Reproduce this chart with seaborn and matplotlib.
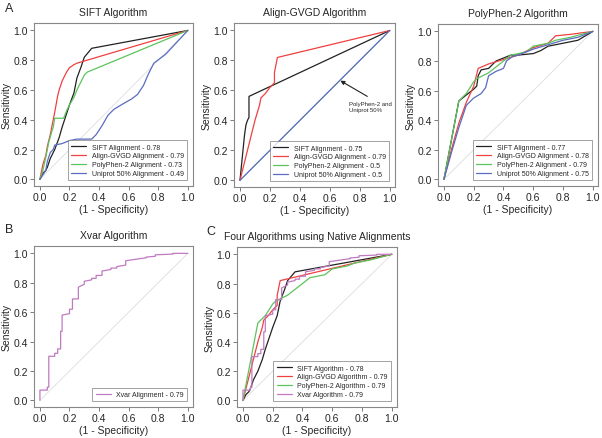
import pandas as pd
import matplotlib
matplotlib.use("Agg")
import matplotlib.pyplot as plt
import seaborn as sns

sns.set_style("ticks")
plt.rcParams['font.family'] = ['Liberation Sans', 'DejaVu Sans']

# couleurs des courbes
c_black = "#222222"
c_red = "#f04040"
c_green = "#5cc45c"
c_blue = "#5a6cc0"
c_pink = "#c07ac0"

# --- panneau A1 : SIFT Algorithm ---
sift_sift_x = [0, 0.02, 0.04, 0.05, 0.07, 0.1, 0.13, 0.15, 0.18, 0.2, 0.23, 0.25, 0.28, 0.3, 0.35, 1.0]
sift_sift_y = [0, 0.04, 0.06, 0.08, 0.14, 0.2, 0.28, 0.35, 0.44, 0.5, 0.58, 0.68, 0.76, 0.82, 0.88, 1.0]
sift_gvgd_x = [0, 0.02, 0.04, 0.05, 0.07, 0.08, 0.1, 0.12, 0.13, 0.15, 0.18, 0.2, 0.23, 0.25, 1.0]
sift_gvgd_y = [0, 0.1, 0.16, 0.22, 0.3, 0.35, 0.45, 0.56, 0.6, 0.66, 0.72, 0.75, 0.77, 0.78, 1.0]
sift_pph_x = [0, 0.02, 0.04, 0.06, 0.08, 0.09, 0.1, 0.16, 0.18, 0.2, 0.23, 0.25, 0.28, 0.3, 0.32, 1.0]
sift_pph_y = [0, 0.06, 0.15, 0.25, 0.32, 0.35, 0.41, 0.41, 0.46, 0.5, 0.55, 0.6, 0.66, 0.7, 0.72, 1.0]
sift_uni_x = [0, 0.02, 0.04, 0.05, 0.07, 0.09, 0.1, 0.15, 0.2, 0.25, 0.35, 0.38, 0.42, 0.46, 0.5, 0.55, 0.62, 0.66, 0.7, 0.73, 0.77, 0.85, 1.0]
sift_uni_y = [0, 0.03, 0.06, 0.12, 0.18, 0.2, 0.23, 0.24, 0.26, 0.27, 0.27, 0.3, 0.36, 0.43, 0.47, 0.5, 0.54, 0.57, 0.63, 0.7, 0.78, 0.84, 1.0]
sift_labels = ["SIFT Alignment - 0.78", "Align-GVGD Alignment - 0.79",
               "PolyPhen-2 Alignment - 0.73", "Uniprot 50% Alignment - 0.49"]

# --- panneau A2 : Align-GVGD Algorithm ---
gvgd_sift_x = [0, 0.03, 0.04, 0.05, 0.06, 0.06, 1.0]
gvgd_sift_y = [0, 0.3, 0.37, 0.4, 0.42, 0.56, 1.0]
gvgd_gvgd_x = [0, 0.05, 0.1, 0.13, 0.14, 0.17, 0.2, 0.23, 0.23, 0.24, 0.25, 1.0]
gvgd_gvgd_y = [0, 0.2, 0.4, 0.5, 0.55, 0.58, 0.62, 0.65, 0.72, 0.77, 0.82, 1.0]
gvgd_pph_x = [0, 1.0]
gvgd_pph_y = [0, 1.0]
gvgd_uni_x = [0, 1.0]
gvgd_uni_y = [0, 1.0]
gvgd_labels = ["SIFT Alignment - 0.75", "Align-GVGD Alignment - 0.79",
               "PolyPhen-2 Alignment - 0.5", "Uniprot 50% Alignment - 0.5"]

# --- panneau A3 : PolyPhen-2 Algorithm ---
pph_sift_x = [0, 0.1, 0.15, 0.2, 0.22, 0.23, 0.25, 0.3, 0.35, 0.4, 0.45, 0.5, 0.6, 0.65, 0.7, 0.8, 0.9, 1.0]
pph_sift_y = [0, 0.53, 0.57, 0.61, 0.63, 0.7, 0.74, 0.75, 0.8, 0.82, 0.84, 0.84, 0.85, 0.87, 0.9, 0.92, 0.94, 1.0]
pph_gvgd_x = [0, 0.05, 0.1, 0.15, 0.2, 0.23, 0.3, 0.4, 0.5, 0.6, 0.7, 0.75, 0.85, 1.0]
pph_gvgd_y = [0, 0.2, 0.38, 0.52, 0.63, 0.75, 0.78, 0.81, 0.84, 0.89, 0.92, 0.97, 0.98, 1.0]
pph_pph_x = [0, 0.1, 0.15, 0.2, 0.22, 0.3, 0.35, 0.4, 0.45, 0.55, 0.6, 0.7, 0.75, 0.85, 1.0]
pph_pph_y = [0, 0.53, 0.58, 0.66, 0.68, 0.72, 0.76, 0.8, 0.84, 0.86, 0.9, 0.92, 0.94, 0.96, 1.0]
pph_uni_x = [0, 0.05, 0.1, 0.15, 0.2, 0.25, 0.28, 0.3, 0.35, 0.4, 0.42, 0.46, 0.5, 0.6, 0.7, 0.8, 0.9, 1.0]
pph_uni_y = [0, 0.18, 0.35, 0.5, 0.55, 0.58, 0.62, 0.7, 0.73, 0.75, 0.8, 0.83, 0.84, 0.88, 0.91, 0.94, 0.96, 1.0]
pph_labels = ["SIFT Alignment - 0.77", "Align-GVGD Alignment - 0.78",
              "PolyPhen-2 Alignment - 0.79", "Uniprot 50% Alignment - 0.75"]

# --- panneau B : Xvar Algorithm (courbe en escalier) ---
xvar_x = [0, 0, 0.05, 0.05, 0.06, 0.06, 0.1, 0.1, 0.12, 0.12, 0.14, 0.14, 0.15, 0.15, 0.2, 0.2,
          0.22, 0.22, 0.26, 0.26, 0.3, 0.3, 0.35, 0.35, 0.38, 0.38, 0.42, 0.42, 0.48, 0.48,
          0.52, 0.52, 0.58, 0.58, 0.65, 0.65, 0.72, 0.72, 0.78, 0.78, 0.9, 0.9, 1.0]
xvar_y = [0, 0.07, 0.07, 0.09, 0.09, 0.3, 0.3, 0.32, 0.32, 0.35, 0.35, 0.47, 0.47, 0.58, 0.59, 0.62,
          0.62, 0.69, 0.69, 0.77, 0.79, 0.81, 0.82, 0.83, 0.83, 0.85, 0.85, 0.88, 0.89, 0.9,
          0.9, 0.91, 0.92, 0.95, 0.96, 0.96, 0.97, 0.975, 0.98, 0.99, 0.995, 1.0, 1.0]
xvar_labels = ["Xvar Alignment - 0.79"]

# --- panneau C : les quatre algorithmes ---
natif_labels = ["SIFT Algorithm - 0.78", "Align-GVGD Algorithm - 0.79",
                "PolyPhen-2 Algorithm - 0.79", "Xvar Algorithm - 0.79"]


def tracer(ax, courbes, labels, couleurs, titre):
    # tableau long pour seaborn
    morceaux = []
    for (xs, ys), lab in zip(courbes, labels):
        morceaux.append(pd.DataFrame({"fpr": xs, "tpr": ys, "courbe": lab}))
    df = pd.concat(morceaux, ignore_index=True)
    ax.plot([0, 1], [0, 1], color="#dddddd", lw=0.6, zorder=0)
    sns.lineplot(data=df, x="fpr", y="tpr", hue="courbe", palette=dict(zip(labels, couleurs)),
                 sort=False, estimator=None, lw=0.9, ax=ax)
    ax.set_xlim(-0.04, 1.035)
    ax.set_ylim(-0.045, 1.05)
    ax.set_xticks([0, 0.2, 0.4, 0.6, 0.8, 1.0])
    ax.set_yticks([0, 0.2, 0.4, 0.6, 0.8, 1.0])
    ax.tick_params(labelsize=7.5, length=3, width=0.6, color="#666666", pad=1.5)
    for s in ax.spines.values():
        s.set_color("#888888")
        s.set_linewidth(0.8)
    ax.set_xlabel("(1 - Specificity)", fontsize=7.5, labelpad=1)
    ax.set_ylabel("Sensitivity", fontsize=7.5, labelpad=1)
    ax.set_title(titre, fontsize=7.5, pad=6)
    leg = ax.legend(loc="lower right", fontsize=5, frameon=True, fancybox=False,
                    edgecolor="#777777", handlelength=2.2, borderpad=0.5,
                    labelspacing=0.25, borderaxespad=0.8)
    leg.get_frame().set_linewidth(0.6)


fig = plt.figure(figsize=(6.02, 4.39), dpi=100)
W, H = 602, 439


def boite(l, r, t, b):
    return [l / W, (H - b) / H, (r - l) / W, (b - t) / H]


ax1 = fig.add_axes(boite(34, 193, 24, 187))
ax2 = fig.add_axes(boite(234, 395, 24, 188))
ax3 = fig.add_axes(boite(438, 598, 25, 187))
ax4 = fig.add_axes(boite(34, 193, 247, 408))
ax5 = fig.add_axes(boite(237, 397, 248, 408))

couleurs4 = [c_black, c_red, c_green, c_blue]

tracer(ax1, [(sift_sift_x, sift_sift_y), (sift_gvgd_x, sift_gvgd_y),
             (sift_pph_x, sift_pph_y), (sift_uni_x, sift_uni_y)],
       sift_labels, couleurs4, "SIFT Algorithm")
tracer(ax2, [(gvgd_sift_x, gvgd_sift_y), (gvgd_gvgd_x, gvgd_gvgd_y),
             (gvgd_pph_x, gvgd_pph_y), (gvgd_uni_x, gvgd_uni_y)],
       gvgd_labels, couleurs4, "Align-GVGD Algorithm")
# la courbe verte est cachée sous la bleue sur la diagonale
ax2.lines[3].set_linewidth(0.4)
tracer(ax3, [(pph_sift_x, pph_sift_y), (pph_gvgd_x, pph_gvgd_y),
             (pph_pph_x, pph_pph_y), (pph_uni_x, pph_uni_y)],
       pph_labels, couleurs4, "PolyPhen-2 Algorithm")
tracer(ax4, [(xvar_x, xvar_y)], xvar_labels, [c_pink], "Xvar Algorithm")
tracer(ax5, [(sift_sift_x, sift_sift_y), (gvgd_gvgd_x, gvgd_gvgd_y),
             (pph_pph_x, pph_pph_y), (xvar_x, xvar_y)],
       natif_labels, [c_black, c_red, c_green, c_pink], "Four Algorithms using Native Alignments")

# annotation du panneau Align-GVGD
ax2.annotate("", xy=(0.67, 0.665), xytext=(0.85, 0.56),
             arrowprops=dict(arrowstyle="-|>", color="#222222", lw=0.8, mutation_scale=6,
                             shrinkA=0, shrinkB=0))
ax2.text(0.73, 0.49, "PolyPhen-2 and\nUniprot 50%", fontsize=4.3, ha="left", va="center",
         linespacing=1.3)

# lettres des panneaux
fig.text(5 / W, 1 - 9 / H, "A", fontsize=9, va="center")
fig.text(5 / W, 1 - 230 / H, "B", fontsize=9, va="center")
fig.text(206 / W, 1 - 232 / H, "C", fontsize=9, va="center")

fig.savefig("out.png", dpi=100)
